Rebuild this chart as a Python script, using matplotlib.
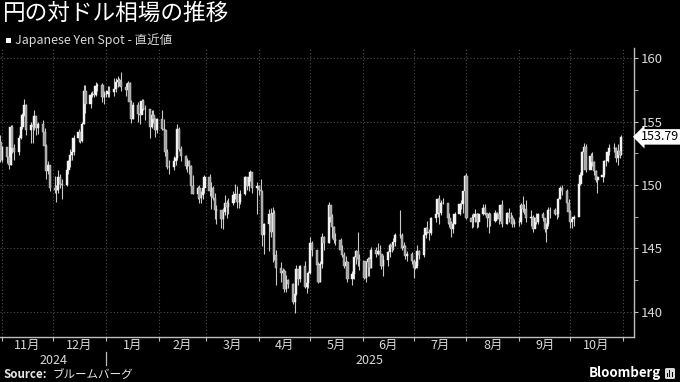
import matplotlib
matplotlib.use('Agg')
import matplotlib.pyplot as plt
import matplotlib.dates as mdates
import matplotlib.transforms as mtransforms
from matplotlib.patches import Rectangle, FancyBboxPatch
import pandas as pd
import numpy as np

plt.rcParams['font.family'] = ['Noto Sans CJK JP', 'DejaVu Sans']

title = "円の対ドル相場の推移"
legend_label = "Japanese Yen Spot - 直近値"
source_head = "Source:"
source_label = "ブルームバーグ"
brand = "Bloomberg"
month_labels = ["11月", "12月", "1月", "2月", "3月", "4月", "5月", "6月", "7月", "8月", "9月", "10月"]
year_labels = ["2024", "2025"]
yticks = [140, 145, 150, 155, 160]
last_value = 153.79
first_open = 153.40

close = [
    152.00,
    # Nov 2024
    152.99, 152.20, 151.60, 154.60, 152.90, 152.60, 153.70, 154.60, 155.50, 156.30, 154.30,
    154.70, 154.60, 155.40, 154.50, 154.80, 154.20, 153.10, 151.10, 151.60, 149.80,
    # Dec 2024
    149.60, 149.60, 150.60, 150.10, 150.00, 151.20, 151.90, 152.40, 152.60, 153.70, 154.20,
    153.50, 154.80, 157.40, 156.40, 157.10, 157.20, 157.10, 157.80, 157.90, 156.90, 157.20,
    # Jan 2025
    157.20, 157.40, 157.30, 157.60, 158.10, 158.30, 158.10, 157.70, 157.50, 158.00, 156.50,
    155.20, 156.30, 155.60, 155.50, 156.60, 156.00, 156.00, 154.60, 155.50, 155.20, 154.30, 155.20,
    # Feb
    154.40, 154.30, 152.60, 151.40, 151.40, 151.90, 152.10, 154.40, 152.80, 152.30,
    151.50, 151.90, 151.50, 149.90, 149.30, 149.80, 149.00, 149.20, 149.80, 150.60,
    # Mar
    149.50, 149.80, 149.00, 148.00, 148.00, 147.30, 147.90, 148.60, 148.30, 148.60, 149.20,
    149.30, 148.70, 148.70, 149.30, 150.60, 149.90, 150.60, 151.00, 149.80, 149.90,
    # Apr
    149.60, 149.50, 146.10, 146.90, 147.70, 146.30, 147.80, 144.50, 143.50, 143.10, 143.20,
    141.80, 142.50, 142.20, 140.80, 141.40, 143.40, 142.60, 143.60, 142.00, 142.30, 143.10,
    # May
    145.40, 144.90, 143.70, 142.40, 143.80, 145.90, 145.40, 148.40, 147.50, 146.70, 145.70,
    145.70, 144.90, 144.50, 143.60, 143.90, 142.60, 143.00, 144.30, 144.80, 144.20, 144.00,
    # Jun
    142.70, 143.90, 144.20, 143.50, 144.90, 144.60, 144.80, 144.60, 143.60, 144.10, 144.70,
    145.30, 145.10, 145.50, 146.10, 146.10, 145.00, 145.20, 144.40, 144.60, 144.00,
    # Jul
    143.50, 143.60, 144.80, 144.50, 146.10, 146.60, 146.30, 146.20, 147.40, 147.70, 148.90,
    147.80, 148.60, 148.60, 147.40, 147.00, 146.50, 146.90, 147.70, 148.50, 148.50, 149.50, 150.70,
    # Aug
    147.40, 147.10, 147.50, 147.70, 147.10, 147.70, 148.20, 147.80, 147.40, 147.70, 147.20,
    147.80, 147.70, 147.30, 148.40, 146.90, 147.80, 147.40, 147.40, 146.90, 147.10,
    # Sep
    147.10, 148.40, 148.10, 148.10, 147.40, 147.50, 146.50, 147.40, 147.10, 147.70, 147.40,
    146.50, 146.90, 148.00, 148.00, 147.70, 147.70, 148.90, 149.80, 149.50, 148.60, 147.90,
    # Oct
    147.10, 147.30, 147.50, 150.10, 150.80, 152.60, 153.00, 151.20, 152.30, 151.80, 151.10,
    150.40, 150.60, 150.80, 151.90, 151.90, 152.60, 152.90, 152.90, 152.10, 152.70, 152.40, 153.79,
]

high = [
    153.90,
    # Nov 2024
    153.10, 152.70, 152.30, 154.70, 154.70, 153.20, 153.90, 154.80, 155.65, 156.75, 156.40,
    155.00, 155.30, 155.90, 155.30, 155.00, 155.10, 154.50, 153.20, 151.90, 151.60,
    # Dec 2024
    150.70, 150.00, 151.20, 150.90, 150.50, 151.40, 152.00, 152.80, 153.00, 153.90, 154.40,
    154.20, 155.00, 157.90, 157.90, 157.30, 157.40, 157.30, 158.10, 158.00, 158.00, 157.40,
    # Jan 2025
    157.40, 157.80, 157.80, 158.40, 158.40, 158.55, 158.40, 158.88, 158.00, 158.20, 158.10,
    156.70, 156.50, 156.50, 156.30, 156.80, 156.80, 156.30, 156.00, 155.90, 155.90, 155.30, 155.30,
    # Feb
    155.90, 155.20, 154.40, 152.80, 152.00, 152.30, 152.60, 154.80, 154.60, 153.10,
    152.40, 152.10, 152.00, 151.60, 150.80, 149.90, 150.00, 149.50, 150.00, 150.80,
    # Mar
    150.90, 150.20, 149.90, 149.40, 148.40, 148.00, 148.20, 149.20, 148.80, 149.00, 149.50,
    150.10, 149.90, 149.20, 149.60, 150.70, 150.30, 150.70, 151.20, 151.00, 150.20,
    # Apr
    150.00, 150.50, 149.30, 147.00, 148.10, 148.20, 148.30, 148.00, 144.90, 143.90, 143.50,
    143.40, 142.90, 142.60, 142.30, 141.60, 143.70, 143.20, 143.70, 144.00, 142.40, 143.20,
    # May
    145.90, 145.60, 144.90, 143.90, 144.00, 146.20, 146.00, 148.65, 148.30, 147.70, 146.80,
    146.20, 145.80, 145.30, 144.70, 144.40, 144.00, 143.20, 144.40, 144.90, 146.30, 144.60,
    # Jun
    143.90, 144.00, 144.30, 144.30, 145.10, 145.10, 145.40, 145.30, 144.50, 144.50, 144.80,
    145.40, 145.40, 145.80, 146.20, 148.00, 146.20, 145.50, 145.30, 144.80, 144.70,
    # Jul
    144.20, 144.00, 145.30, 144.90, 146.20, 146.70, 147.20, 146.50, 147.50, 147.80, 149.00,
    149.20, 148.80, 149.00, 148.60, 147.80, 147.20, 147.20, 147.90, 148.60, 148.80, 149.50, 150.80,
    # Aug
    150.92, 147.70, 147.80, 148.10, 147.80, 147.80, 148.50, 148.50, 147.80, 147.90, 147.80,
    148.00, 147.90, 147.80, 148.40, 148.80, 147.90, 148.20, 147.90, 147.60, 147.30,
    # Sep
    147.50, 148.60, 149.10, 148.50, 148.80, 148.00, 147.60, 147.50, 147.80, 147.80, 147.90,
    147.40, 147.00, 148.30, 148.30, 148.20, 148.00, 149.00, 149.90, 150.00, 149.70, 148.90,
    # Oct
    148.00, 147.40, 147.60, 150.50, 151.00, 152.70, 153.27, 153.20, 152.50, 152.60, 151.90,
    151.20, 150.70, 151.00, 152.00, 152.20, 152.70, 153.20, 153.30, 153.00, 153.20, 152.90, 153.90,
]

low = [
    151.80,
    # Nov 2024
    151.80, 151.70, 151.30, 151.60, 152.50, 152.00, 152.40, 153.60, 154.40, 155.40, 153.90,
    153.30, 153.30, 154.30, 153.90, 154.00, 153.50, 152.70, 150.50, 150.90, 149.50,
    # Dec 2024
    149.40, 148.65, 149.40, 149.80, 148.90, 149.90, 150.90, 151.40, 152.00, 152.40, 153.40,
    153.30, 153.40, 154.80, 155.70, 156.10, 156.90, 156.90, 157.00, 157.40, 156.50, 156.40,
    # Jan 2025
    156.90, 156.90, 156.90, 157.00, 157.30, 157.70, 157.80, 157.40, 157.00, 157.30, 156.00,
    154.90, 155.20, 155.00, 154.80, 155.60, 155.90, 155.10, 153.70, 154.50, 154.90, 153.80, 154.10,
    # Feb
    154.30, 153.80, 152.30, 151.30, 150.90, 151.20, 151.60, 152.00, 152.70, 151.90,
    151.30, 151.00, 150.90, 149.40, 149.30, 148.90, 148.60, 148.60, 148.90, 149.40,
    # Mar
    149.10, 148.10, 148.80, 147.30, 146.90, 146.60, 146.54, 147.60, 147.40, 147.70, 148.40,
    148.90, 148.20, 148.20, 148.50, 149.20, 149.60, 149.50, 150.30, 149.40, 147.70,
    # Apr
    149.20, 148.20, 145.20, 144.60, 144.80, 145.90, 143.90, 144.10, 142.10, 142.40, 142.70,
    141.60, 141.60, 141.90, 140.60, 139.89, 141.30, 142.10, 142.40, 141.90, 141.50, 141.90,
    # May
    143.00, 144.40, 143.50, 142.30, 142.40, 143.50, 144.90, 145.40, 147.10, 145.80, 145.40,
    145.30, 144.60, 144.30, 143.50, 143.40, 142.40, 142.10, 142.60, 143.80, 143.60, 143.30,
    # Jun
    142.60, 142.40, 142.80, 142.80, 143.50, 144.30, 144.50, 144.10, 143.40, 142.80, 143.60,
    144.30, 144.70, 144.90, 145.20, 145.80, 144.90, 144.60, 144.20, 144.00, 143.80,
    # Jul
    142.70, 143.40, 143.50, 144.20, 144.30, 145.80, 146.20, 145.70, 146.10, 147.10, 147.50,
    146.90, 147.60, 148.50, 146.90, 146.70, 145.90, 146.20, 146.90, 147.60, 148.10, 147.80, 149.20,
    # Aug
    147.30, 146.60, 146.70, 147.10, 146.60, 146.70, 147.60, 147.60, 146.70, 146.20, 146.80,
    147.10, 147.30, 146.90, 147.20, 146.70, 146.90, 147.10, 147.00, 146.70, 146.70,
    # Sep
    146.80, 146.90, 147.90, 147.70, 147.10, 146.80, 146.30, 146.70, 146.90, 146.90, 147.20,
    146.30, 145.50, 146.80, 147.40, 147.60, 147.30, 147.50, 148.90, 149.20, 148.50, 147.70,
    # Oct
    146.60, 146.60, 146.80, 149.10, 150.00, 150.80, 152.10, 151.00, 151.80, 151.50, 150.80,
    150.20, 149.38, 150.20, 150.60, 151.50, 151.80, 152.40, 152.60, 151.80, 151.60, 152.10, 152.40,
]

dates = pd.bdate_range('2024-10-31', '2025-10-31')
assert len(dates) == len(close) == len(high) == len(low), (len(dates), len(close), len(high), len(low))

x = mdates.date2num(dates)
c = np.array(close)
h = np.array(high)
l = np.array(low)
o = np.r_[first_open, c[:-1]]

W, H = 680, 382
fig = plt.figure(figsize=(W / 100, H / 100), dpi=100, facecolor='black')
ax = fig.add_axes([0, 45 / H, 634 / W, 289 / H], facecolor='black')

x0 = mdates.date2num(pd.Timestamp('2024-10-30 19:00'))
x1 = mdates.date2num(pd.Timestamp('2025-11-07 12:00'))
ax.set_xlim(x0, x1)
ax.set_ylim(138.03, 160.79)

bounds = mdates.date2num(pd.date_range('2024-11-01', '2025-11-01', freq='MS'))

# grid
ax.set_axisbelow(True)
for yv in yticks:
    ax.axhline(yv, color='#4d4d4d', lw=0.8, ls=(0, (1, 2)), zorder=0)
for bv in bounds:
    ax.axvline(bv, color='#4d4d4d', lw=0.8, ls=(0, (1, 2)), zorder=0)

# candles
up = c >= o
ax.vlines(x, l, h, color='#c8c8c8', lw=0.8, zorder=2)
bw = 1.35
ax.bar(x[up], (c - o)[up], bottom=o[up], width=bw, color='#f2f2f2', edgecolor='#f2f2f2', lw=0.3, zorder=3)
ax.bar(x[~up], (c - o)[~up], bottom=o[~up], width=bw, color='#a6a6a6', edgecolor='#d0d0d0', lw=0.3, zorder=3)

# spines
for s in ['left', 'top']:
    ax.spines[s].set_visible(False)
for s in ['right', 'bottom']:
    ax.spines[s].set_color('#bdbdbd')
    ax.spines[s].set_linewidth(1.0)

ax.yaxis.tick_right()
ax.set_yticks(yticks)
ax.set_yticks([142.5, 147.5, 152.5, 157.5], minor=True)
ax.tick_params(axis='y', which='both', direction='out', length=3, color='#bdbdbd',
               labelcolor='#d9d9d9', labelsize=9.5, pad=2)
ax.set_xticks(bounds)
ax.set_xticklabels([])
ax.xaxis.set_minor_locator(matplotlib.ticker.NullLocator())
ax.tick_params(axis='x', direction='out', length=3, color='#bdbdbd')

# month labels
trans = mtransforms.blended_transform_factory(ax.transData, ax.transAxes)
for i, lab in enumerate(month_labels):
    mid = (bounds[i] + bounds[i + 1]) / 2
    ax.text(mid, -0.03, lab, transform=trans, ha='center', va='center',
            color='#d9d9d9', fontsize=9)
jan1 = mdates.date2num(pd.Timestamp('2025-01-01'))
ax.text((bounds[0] + jan1) / 2, -0.082, year_labels[0], transform=trans, ha='center',
        va='center', color='#d9d9d9', fontsize=9)
ax.text((jan1 + x1) / 2, -0.082, year_labels[1], transform=trans, ha='center',
        va='center', color='#d9d9d9', fontsize=9)
ax.plot([jan1, jan1], [-0.052, -0.098], transform=trans, color='#bdbdbd', lw=0.9, clip_on=False)

# last value tag
trans_y = mtransforms.blended_transform_factory(ax.transAxes, ax.transData)
ax.text(1.0 + 7 / 634, last_value, f"{last_value:.2f}", transform=trans_y, ha='left', va='center',
        color='black', fontsize=9, clip_on=False,
        bbox=dict(boxstyle='larrow,pad=0.1', fc='white', ec='none'))

# title & legend
fig.text(3 / W, 1 - 13 / H, title, fontsize=16.3, color='white', ha='left', va='center')
fig.patches.append(Rectangle((6 / W, 1 - 43 / H), 5 / W, 5 / H, transform=fig.transFigure,
                             facecolor='white', edgecolor='none'))
fig.text(15 / W, 1 - 40 / H, legend_label, fontsize=9, color='#d9d9d9', ha='left', va='center')

# source
fig.text(3 / W, 1 - 374 / H, source_head, fontsize=8.3, color='#e6e6e6', weight='bold',
         ha='left', va='center')
fig.text(52 / W, 1 - 374 / H, source_label, fontsize=8.3, color='#e6e6e6', ha='left', va='center')

# brand
fig.text(661 / W, 1 - 373 / H, brand, fontsize=9.5, color='white', weight='bold',
         ha='right', va='center')
fig.patches.append(FancyBboxPatch((665 / W, 1 - 379 / H), 10 / W, 11 / H,
                                  boxstyle='round,pad=0,rounding_size=0.003',
                                  transform=fig.transFigure, facecolor='#d9d9d9', edgecolor='none'))
for k, hh in enumerate([4, 7, 5]):
    fig.patches.append(Rectangle(((667 + k * 2.3) / W, 1 - 377 / H), 1.2 / W, hh / H,
                                 transform=fig.transFigure, facecolor='black', edgecolor='none'))

fig.savefig('out.png', dpi=100, facecolor='black')
